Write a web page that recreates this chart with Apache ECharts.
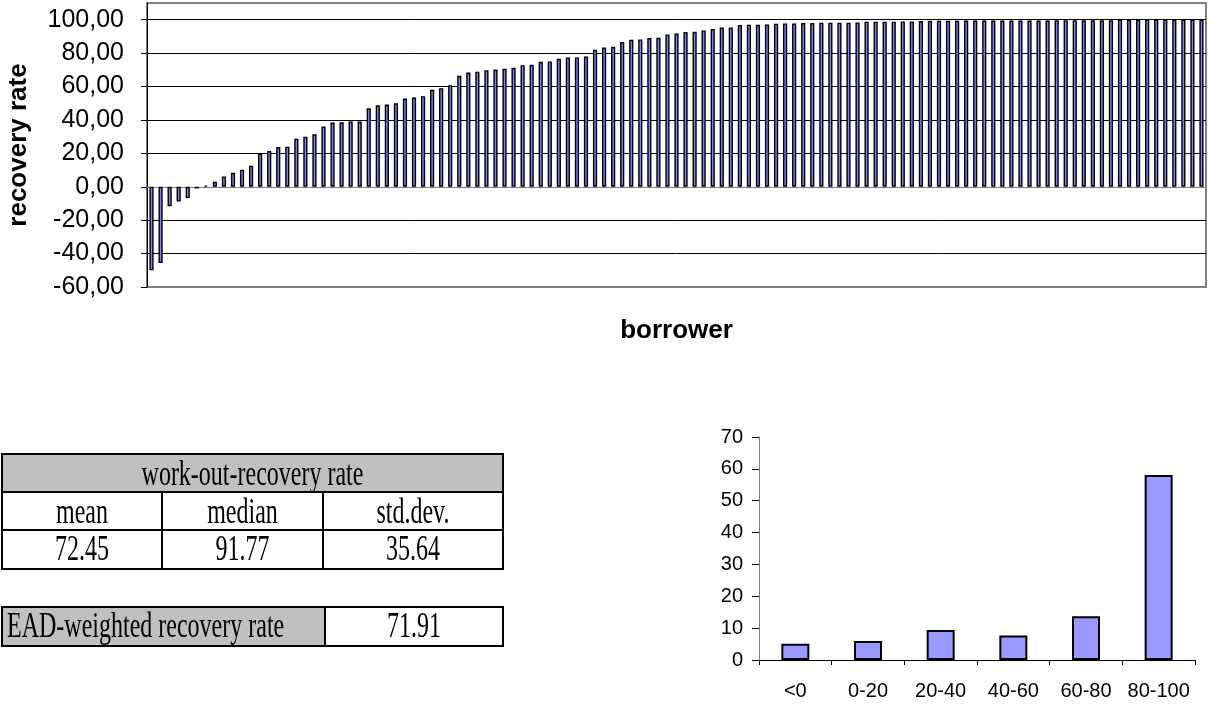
<!DOCTYPE html>
<html>
<head>
<meta charset="utf-8">
<title>work-out recovery rate</title>
<script src="https://cdn.jsdelivr.net/npm/echarts@6.0.0/dist/echarts.min.js"></script>
<style>
    body { margin: 0; background: #fff; }
    #chart { position: absolute; left: 0; top: 0; width: 1208px; height: 706px; }
    .box { position: absolute; box-sizing: border-box; border: 2px solid #000;
           font-family: "Liberation Serif", "Times New Roman", serif; font-size: 24px; color: #000;
           text-align: center; white-space: nowrap; overflow: visible; }
    .box span { display: inline-block; transform: scaleY(1.45); }
    .grey { background: #c0c0c0; }
</style>
</head>
<body>
<div id="chart"></div>
<div id="tables"></div>

<script>
// recovery rate per borrower, sorted
var recoveryRate = [
    -50.0, -45.6, -11.6, -8.8, -6.8, -1.0, 0.8, 3.0, 6.2, 8.4,
    10.2, 12.6, 19.9, 21.4, 23.8, 24.0, 28.8, 30.0, 31.4, 36.0,
    38.4, 38.6, 39.0, 39.0, 47.0, 48.8, 49.2, 50.0, 52.8, 53.4,
    54.2, 58.0, 59.0, 60.8, 66.4, 68.4, 68.8, 69.8, 70.2, 70.6,
    71.2, 72.8, 73.0, 74.8, 75.0, 76.6, 77.4, 77.4, 78.0, 82.0,
    83.4, 83.8, 86.6, 88.0, 88.2, 89.0, 89.2, 91.2, 91.8, 92.6,
    92.8, 93.6, 94.4, 95.4, 95.4, 96.8, 97.0, 97.0, 97.2, 97.6,
    97.8, 97.8, 98.0, 98.0, 98.2, 98.2, 98.2, 98.2, 98.4, 98.8,
    98.8, 98.8, 98.8, 99.0, 99.0, 99.2, 99.4, 99.4, 99.4, 99.4,
    99.5, 99.5, 99.5, 99.5, 99.5, 99.5, 99.5, 99.5, 99.5, 99.5,
    99.7, 99.7, 99.7, 99.7, 99.7, 99.7, 99.7, 100.0, 100.0, 100.0,
    100.0, 100.0, 100.0, 100.0, 100.0, 100.0, 100.0
];
var rateTicks = { min: -60, max: 110, step: 20 };

// histogram (% of borrowers per class)
var classes = ['<0', '0-20', '20-40', '40-60', '60-80', '80-100'];
var classShare = [5.1, 6.0, 9.4, 7.7, 13.7, 58.1];
var shareTicks = { min: 0, max: 70, step: 10 };

// summary tables
var tableTitle = 'work-out-recovery rate';
var statNames = ['mean', 'median', 'std.dev.'];
var statValues = ['72.45', '91.77', '35.64'];
var eadLabel = 'EAD-weighted recovery rate';
var eadValue = '71.91';
</script>

<script>
    // tables as plain boxes
    function box(x, y, w, h, text, cls, align) {
        var d = document.createElement('div');
        d.className = 'box' + (cls ? ' ' + cls : '');
        d.style.left = x + 'px'; d.style.top = y + 'px';
        d.style.width = w + 'px'; d.style.height = h + 'px';
        d.style.lineHeight = (h - 4) + 'px';
        if (align == 'left') { d.style.textAlign = 'left'; d.style.paddingLeft = '4px'; }
        d.innerHTML = '<span>' + text + '</span>';
        document.getElementById('tables').appendChild(d);
    }
    var colX = [1, 161, 322, 502];
    box(1, 453, 503, 40, tableTitle, 'grey');
    for (var i = 0; i < 3; i++) {
        box(colX[i], 491, colX[i + 1] - colX[i] + 2, 40, statNames[i]);
        box(colX[i], 529, colX[i + 1] - colX[i] + 2, 41, statValues[i]);
    }
    box(1, 606, 325, 41, eadLabel, 'grey', 'left');
    box(324, 606, 180, 41, eadValue);
</script>

<script type="text/javascript">
    var sans = '"Liberation Sans", Arial, sans-serif';
    var borrowers = recoveryRate.map(function (v, i) { return String(i + 1); });
    var myChart = echarts.init(document.getElementById('chart'));

    var option = {
        animation: false,
        grid: [
            { left: 147, right: 2, top: 3, bottom: 419, show: true, borderColor: '#808080', borderWidth: 2,
              containLabel: false, outerBoundsMode: 'none' },
            { left: 759, right: 13, top: 437, bottom: 46, containLabel: false, outerBoundsMode: 'none' }
        ],
        xAxis: [
            {
                gridIndex: 0, type: 'category', data: borrowers,
                name: 'borrower', nameLocation: 'middle', nameGap: 31,
                nameTextStyle: { fontFamily: sans, fontSize: 26, fontWeight: 'bold', color: '#000' },
                axisLine: { onZero: true, lineStyle: { color: '#808080', width: 1 } },
                axisTick: { show: false },
                axisLabel: { show: false },
                splitLine: { show: false }
            },
            {
                gridIndex: 1, type: 'category', data: classes,
                axisLine: { lineStyle: { color: '#000', width: 1 } },
                axisTick: { show: true, length: 5, lineStyle: { color: '#000' } },
                axisLabel: { fontFamily: sans, fontSize: 20, color: '#000', margin: 21, interval: 0 },
                splitLine: { show: false }
            }
        ],
        yAxis: [
            {
                gridIndex: 0, type: 'value',
                min: rateTicks.min, max: rateTicks.max, interval: rateTicks.step,
                name: 'recovery rate', nameLocation: 'middle', nameGap: 115,
                nameTextStyle: { fontFamily: sans, fontSize: 26, fontWeight: 'bold', color: '#000' },
                axisLine: { show: true, onZero: false, lineStyle: { color: '#000', width: 1 } },
                axisTick: { show: true, length: 6, lineStyle: { color: '#000' } },
                axisLabel: {
                    fontFamily: sans, fontSize: 25, color: '#000', margin: 23, showMaxLabel: false,
                    formatter: function (v) { return v.toFixed(2).replace('.', ','); }
                },
                splitLine: { show: true, showMinLine: false, showMaxLine: false, lineStyle: { color: '#000', width: 1 } }
            },
            {
                gridIndex: 1, type: 'value',
                min: shareTicks.min, max: shareTicks.max, interval: shareTicks.step,
                axisLine: { show: true, lineStyle: { color: '#808080', width: 1 } },
                axisTick: { show: true, length: 7, lineStyle: { color: '#000' } },
                axisLabel: { fontFamily: sans, fontSize: 20, color: '#000', margin: 16 },
                splitLine: { show: false }
            }
        ],
        series: [
            {
                type: 'bar', xAxisIndex: 0, yAxisIndex: 0,
                data: recoveryRate, barWidth: 4.2,
                itemStyle: { color: '#8080ff', borderColor: '#000', borderWidth: 1.4 }
            },
            {
                type: 'bar', xAxisIndex: 1, yAxisIndex: 1,
                data: classShare, barWidth: 28,
                itemStyle: { color: '#9999ff', borderColor: '#000', borderWidth: 2 }
            }
        ]
    };
    myChart.setOption(option);
</script>
</body>
</html>
